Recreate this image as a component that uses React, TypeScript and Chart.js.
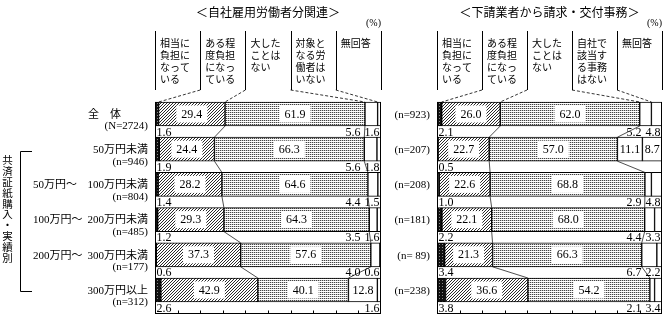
import React, { useEffect, useRef } from "react";
import { Chart, registerables } from "chart.js";
Chart.register(...registerables);

// ---- data ----
const categories = ["全体", "50万円未満", "50万円～100万円未満", "100万円～200万円未満", "200万円～300万円未満", "300万円以上"];
const rowPrefix = ["", "", "50万円～", "100万円～", "200万円～", ""];
const rowMain = ["全　体", "50万円未満", "100万円未満", "200万円未満", "300万円未満", "300万円以上"];
const leftN = ["(N=2724)", "(n=946)", "(n=804)", "(n=485)", "(n=177)", "(n=312)"];
const rightN = ["(n=923)", "(n=207)", "(n=208)", "(n=181)", "(n= 89)", "(n=238)"];

const seriesNames = ["相当に負担になっている", "ある程度負担になっている", "大したことはない", "該当なし", "無回答"];

const leftHeavy = [1.6, 1.9, 1.4, 1.2, 0.6, 2.6];
const leftSome = [29.4, 24.4, 28.2, 29.3, 37.3, 42.9];
const leftMinor = [61.9, 66.3, 64.6, 64.3, 57.6, 40.1];
const leftNone = [5.6, 5.6, 4.4, 3.5, 4.0, 12.8];
const leftNoAns = [1.6, 1.8, 1.5, 1.6, 0.6, 1.6];

const rightHeavy = [2.1, 0.5, 1.0, 2.2, 3.4, 3.8];
const rightSome = [26.0, 22.7, 22.6, 22.1, 21.3, 36.6];
const rightMinor = [62.0, 57.0, 68.8, 68.0, 66.3, 54.2];
const rightNone = [5.2, 11.1, 2.9, 4.4, 6.7, 2.1];
const rightNoAns = [4.8, 8.7, 4.8, 3.3, 2.2, 3.4];

const leftTitle = "＜自社雇用労働者分関連＞";
const rightTitle = "＜下請業者から請求・交付事務＞";
const leftHeaders = [["相当に", "負担に", "なって", "いる"], ["ある程", "度負担", "になっ", "ている"], ["大した", "ことは", "ない"], ["対象と", "なる労", "働者は", "いない"], ["無回答"]];
const rightHeaders = [["相当に", "負担に", "なって", "いる"], ["ある程", "度負担", "になっ", "ている"], ["大した", "ことは", "ない"], ["自社で", "該当す", "る事務", "はない"], ["無回答"]];
const sideLabel = "共済証紙購入・実績別";

const W = 667, H = 318;
const NUM_FONT = "12px 'Liberation Serif', 'Noto Sans CJK JP'";
const ROW_FONT = "11px 'Liberation Serif', 'Noto Sans CJK JP'";
const HEAD_FONT = "10px 'Noto Sans CJK JP'";

function makePattern(ctx: CanvasRenderingContext2D, kind: number): CanvasPattern | string {
  const c = document.createElement("canvas");
  const g = c.getContext("2d")!;
  if (kind === 0) {
    c.width = 3; c.height = 3;
    g.fillStyle = "#111"; g.fillRect(0, 0, 3, 3);
    g.fillStyle = "#888"; g.fillRect(1, 1, 1, 1);
  } else if (kind === 1) {
    c.width = 3; c.height = 3;
    g.fillStyle = "#fff"; g.fillRect(0, 0, 3, 3);
    g.fillStyle = "#2a2a2a";
    g.fillRect(2, 0, 1, 1); g.fillRect(1, 1, 1, 1); g.fillRect(0, 2, 1, 1);
  } else {
    c.width = 2; c.height = 2;
    g.fillStyle = "#fff"; g.fillRect(0, 0, 2, 2);
    g.fillStyle = "#444"; g.fillRect(0, 0, 1, 1);
    g.fillStyle = "#c8c8c8"; g.fillRect(1, 0, 1, 1);
  }
  return ctx.createPattern(c, "repeat") || "#ccc";
}

type Side = {
  values: number[][];
  title: string;
  headers: string[][];
  isLeft: boolean;
};

function makeDecor(side: Side) {
  return {
    id: "decor",
    afterDatasetsDraw(chart: any) {
      const ctx: CanvasRenderingContext2D = chart.ctx;
      const xs = chart.scales.x;
      const metas = [0, 1, 2, 3, 4].map((k) => chart.getDatasetMeta(k));
      const n = side.values[0].length;
      const tops: number[] = [], bottoms: number[] = [], cys: number[] = [];
      for (let i = 0; i < n; i++) {
        const el: any = metas[0].data[i];
        tops.push(el.y - el.height / 2);
        bottoms.push(el.y + el.height / 2);
        cys.push(el.y);
      }
      const x0 = xs.getPixelForValue(0);
      const x100 = xs.getPixelForValue(100);
      const axisY = bottoms[n - 1] + 11;
      ctx.save();

      // connectors between bars
      ctx.strokeStyle = "#222";
      ctx.lineWidth = 0.8;
      for (const k of [1, 2]) {
        for (let i = 0; i < n - 1; i++) {
          const a: any = metas[k].data[i];
          const b: any = metas[k].data[i + 1];
          ctx.beginPath();
          ctx.moveTo(a.x, bottoms[i]);
          ctx.lineTo(b.x, tops[i + 1]);
          ctx.stroke();
        }
      }

      // frame + axis
      ctx.strokeStyle = "#000";
      ctx.lineWidth = 1;
      ctx.beginPath();
      ctx.moveTo(Math.round(x0) + 0.5, tops[0]);
      ctx.lineTo(Math.round(x0) + 0.5, axisY);
      ctx.moveTo(Math.round(x100) - 0.5, tops[0]);
      ctx.lineTo(Math.round(x100) - 0.5, axisY);
      ctx.moveTo(x0, Math.round(axisY) + 0.5);
      ctx.lineTo(x100, Math.round(axisY) + 0.5);
      for (let v = 10; v < 100; v += 10) {
        const px = Math.round(xs.getPixelForValue(v)) + 0.5;
        ctx.moveTo(px, Math.round(axisY) + 0.5);
        ctx.lineTo(px, Math.round(axisY) - 2.5);
      }
      ctx.stroke();

      // value labels
      ctx.font = NUM_FONT;
      ctx.textBaseline = "middle";
      ctx.fillStyle = "#000";
      for (let i = 0; i < n; i++) {
        for (let k = 1; k < 5; k++) {
          const v = side.values[k][i];
          if (k >= 3 && v < 8) continue;
          const el: any = metas[k].data[i];
          const cx = (el.x + el.base) / 2;
          const t = v.toFixed(1);
          const tw = ctx.measureText(t).width;
          if (k <= 2) {
            ctx.fillStyle = "#fff";
            ctx.fillRect(cx - tw / 2 - 5, cys[i] - 8.5, tw + 10, 17);
          }
          ctx.fillStyle = "#000";
          ctx.textAlign = "center";
          ctx.fillText(t, cx, cys[i] + 0.5);
        }
        const ly = bottoms[i] + 6.5;
        ctx.textAlign = "left";
        ctx.fillText(side.values[0][i].toFixed(1), x0 + 1.5, ly);
        let rx = x100 - 1.5;
        ctx.textAlign = "right";
        const v4 = side.values[4][i];
        if (v4 < 8) {
          const t = v4.toFixed(1);
          ctx.fillText(t, rx, ly);
          rx -= ctx.measureText(t).width + 4;
        }
        const v3 = side.values[3][i];
        if (v3 < 8) {
          ctx.fillText(v3.toFixed(1), rx, ly);
        }
      }

      // row labels
      ctx.font = ROW_FONT;
      ctx.textAlign = "right";
      for (let i = 0; i < n; i++) {
        if (side.isLeft) {
          if (i === 0) ctx.fillText(rowMain[i], 121, cys[i] + 1);
          else ctx.fillText(rowMain[i], 148, cys[i] + 1);
          ctx.fillText(leftN[i], 148, cys[i] + 12.5);
          if (rowPrefix[i]) {
            ctx.textAlign = "left";
            ctx.fillText(rowPrefix[i], 33, cys[i] + 1);
            ctx.textAlign = "right";
          }
        } else {
          ctx.fillText(rightN[i], 430, cys[i] + 1);
        }
      }

      // header columns
      const hTop = 31, hBot = 90;
      ctx.beginPath();
      for (let k = 0; k <= 5; k++) {
        const px = Math.round(xs.getPixelForValue(20 * k)) + 0.5;
        ctx.moveTo(px, hTop);
        ctx.lineTo(px, hBot);
      }
      ctx.stroke();
      ctx.setLineDash([3, 2]);
      ctx.lineWidth = 0.8;
      ctx.beginPath();
      for (let k = 1; k <= 4; k++) {
        const px = xs.getPixelForValue(20 * k);
        const el: any = metas[k - 1].data[0];
        ctx.moveTo(px, hBot);
        ctx.lineTo(el.x, tops[0]);
      }
      ctx.stroke();
      ctx.setLineDash([]);
      ctx.font = HEAD_FONT;
      ctx.textAlign = "left";
      for (let k = 0; k < 5; k++) {
        const px = xs.getPixelForValue(20 * k);
        side.headers[k].forEach((line, j) => {
          ctx.fillText(line, px + 5, 43.5 + j * 11.8);
        });
      }

      // title and unit
      ctx.font = "12px 'Noto Sans CJK JP'";
      ctx.textAlign = "center";
      ctx.fillText(side.title, (x0 + x100) / 2, 12.5);
      ctx.font = "10px 'Liberation Serif', 'Noto Sans CJK JP'";
      ctx.textAlign = "right";
      ctx.fillText("(%)", x100, 23);

      // side bracket and vertical label
      if (side.isLeft) {
        ctx.lineWidth = 1;
        ctx.beginPath();
        ctx.moveTo(32, 151.5);
        ctx.lineTo(20.5, 151.5);
        ctx.lineTo(20.5, 291.5);
        ctx.lineTo(32, 291.5);
        ctx.stroke();
        ctx.font = "10.5px 'Noto Sans CJK JP'";
        ctx.textAlign = "center";
        Array.from(sideLabel).forEach((ch, j) => {
          ctx.fillText(ch, 7.5, 160.5 + j * 10.8);
        });
      }
      ctx.restore();
    },
  };
}

function buildChart(canvas: HTMLCanvasElement, side: Side, padLeft: number, padRight: number) {
  const ctx = canvas.getContext("2d")!;
  const patterns = [makePattern(ctx, 0), makePattern(ctx, 1), makePattern(ctx, 2), "#fff", "#fff"];
  return new Chart(canvas, {
    type: "bar",
    data: {
      labels: categories,
      datasets: side.values.map((v, k) => ({
        label: seriesNames[k],
        data: v,
        backgroundColor: patterns[k] as any,
        borderColor: "#000",
        borderWidth: 1,
        borderSkipped: false,
        barThickness: 24,
      })),
    },
    options: {
      indexAxis: "y",
      animation: false,
      responsive: false,
      maintainAspectRatio: false,
      layout: { padding: { left: padLeft, right: padRight, top: 96.4, bottom: 10.4 } },
      scales: {
        x: { stacked: true, min: 0, max: 100, display: false },
        y: { stacked: true, display: false },
      },
      plugins: { legend: { display: false }, tooltip: { enabled: false } },
    },
    plugins: [makeDecor(side)],
  } as any);
}

export default function App() {
  const leftRef = useRef<HTMLCanvasElement>(null);
  const rightRef = useRef<HTMLCanvasElement>(null);
  useEffect(() => {
    const c1 = buildChart(leftRef.current!, {
      values: [leftHeavy, leftSome, leftMinor, leftNone, leftNoAns],
      title: leftTitle,
      headers: leftHeaders,
      isLeft: true,
    }, 155, W - 381);
    const c2 = buildChart(rightRef.current!, {
      values: [rightHeavy, rightSome, rightMinor, rightNone, rightNoAns],
      title: rightTitle,
      headers: rightHeaders,
      isLeft: false,
    }, 437, W - 662);
    return () => {
      c1.destroy();
      c2.destroy();
    };
  }, []);
  const cs: React.CSSProperties = { position: "absolute", left: 0, top: 0, width: W, height: H };
  return (
    <div style={{ position: "absolute", left: 0, top: 0, width: W, height: H, background: "#fff" }}>
      <canvas ref={leftRef} width={W} height={H} style={cs} />
      <canvas ref={rightRef} width={W} height={H} style={cs} />
    </div>
  );
}
